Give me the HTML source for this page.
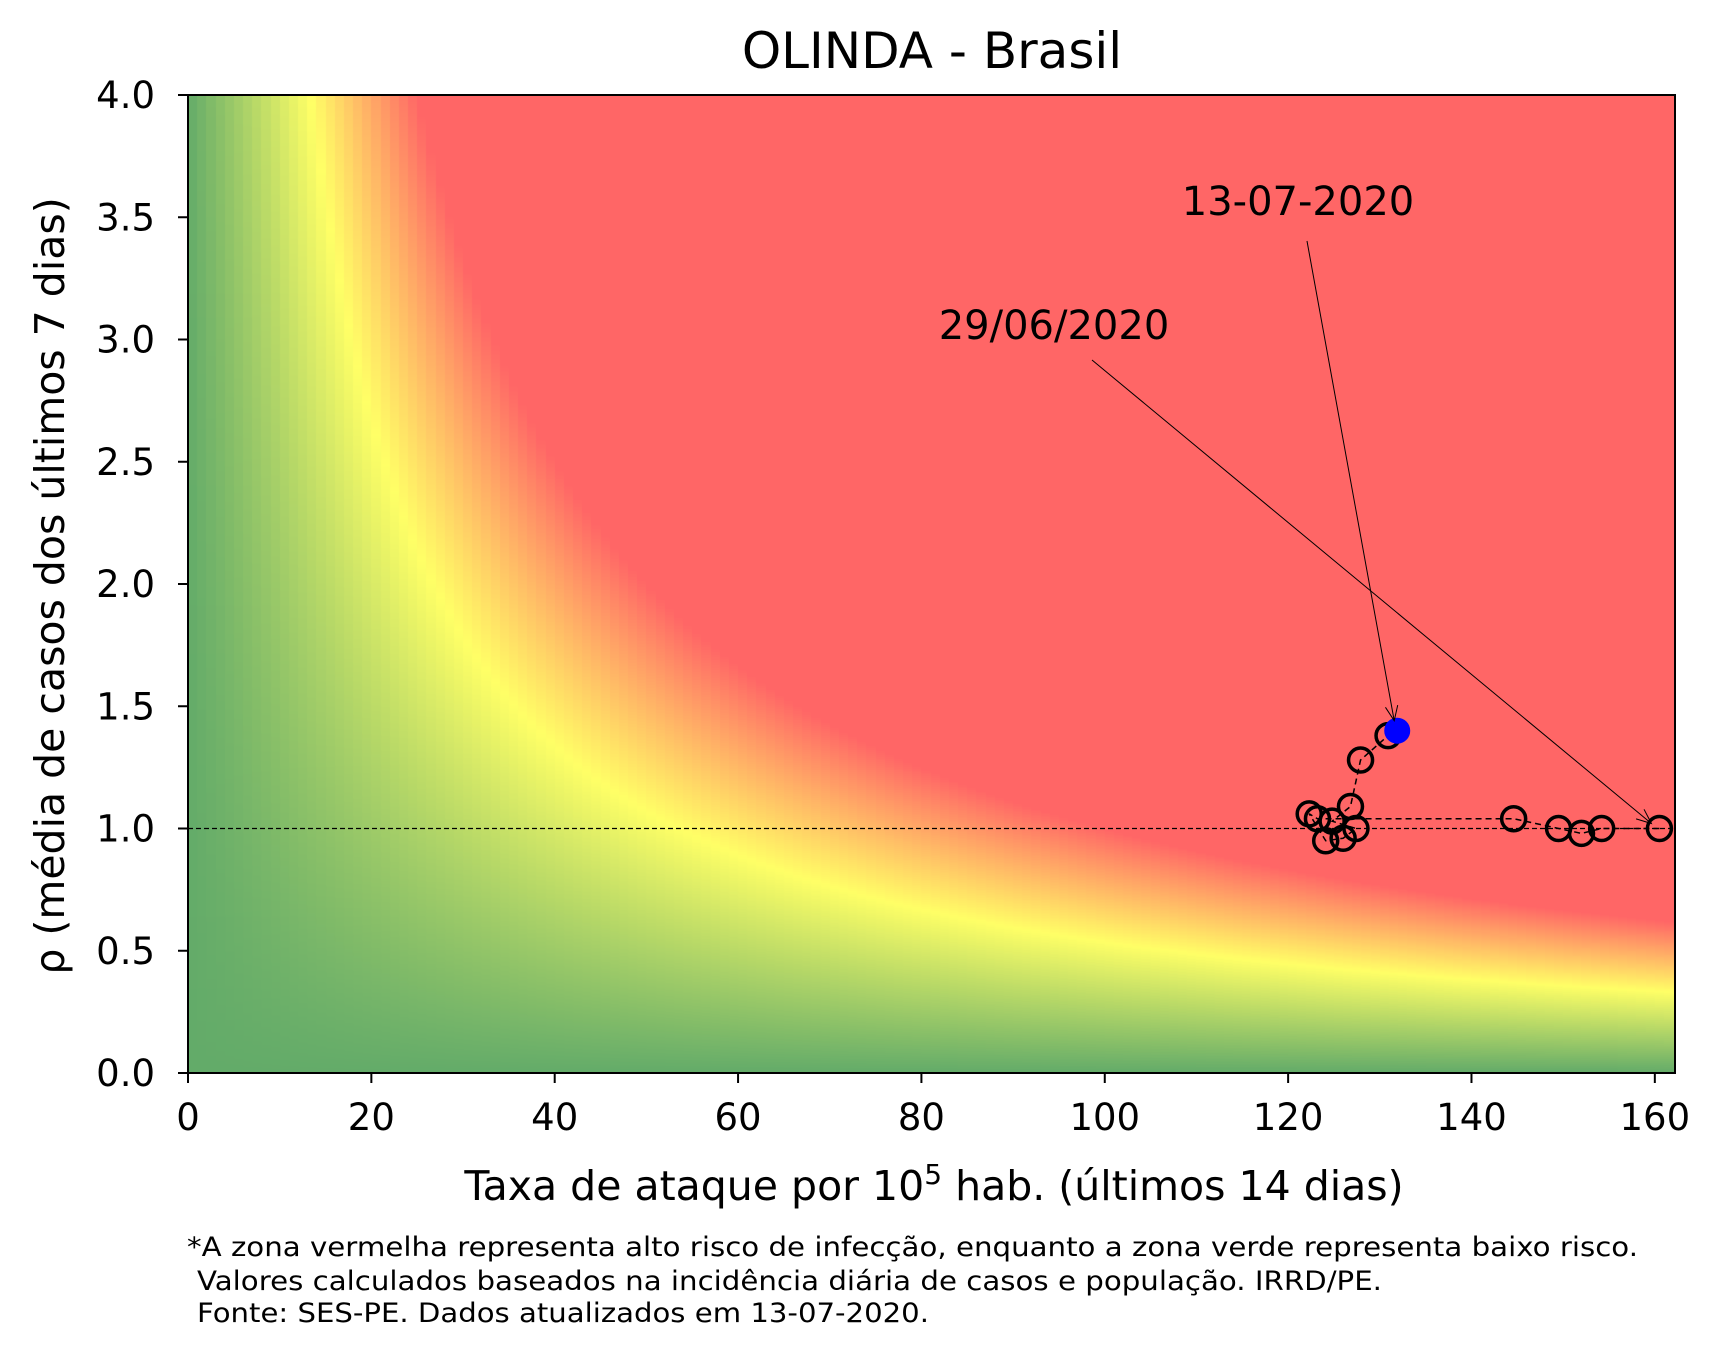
<!DOCTYPE html>
<html><head><meta charset="utf-8"><style>
body{margin:0;background:#fff;}
#wrap{position:relative;width:1725px;height:1357px;font-family:"DejaVu Sans","Liberation Sans",sans-serif;}
canvas,svg{position:absolute;left:0;top:0;}
svg text{font-family:"DejaVu Sans","Liberation Sans",sans-serif;}
</style></head><body>
<div id="wrap">
<canvas id="heat" width="1725" height="1357"></canvas>
<svg id="svg" width="1725" height="1357"></svg>
</div>
<script>
const xs = [160.5,154.2,152.0,149.5,144.6,123.2,122.3,124.1,126.0,127.4,124.8,126.8,127.9,130.9,131.9];
const ys = [1.0,1.0,0.98,1.0,1.04,1.04,1.06,0.95,0.96,1.0,1.03,1.09,1.28,1.38,1.40];
const xTicks = [0,20,40,60,80,100,120,140,160];
const yTicks = [0.0,0.5,1.0,1.5,2.0,2.5,3.0,3.5,4.0];
const L=188,R=1675,T=95,B=1073,XMAX=162.2,YMAX=4;
const sx=v=>L+v/XMAX*(R-L), sy=v=>B-v/YMAX*(B-T);
const c=document.getElementById('heat').getContext('2d');
const img=c.createImageData(R-L,B-T);
const G=[99,171,105],Y=[255,255,102],Rd=[255,102,102];
for(let j=0;j<B-T;j++){const yv=(B-(T+j+0.5))/(B-T)*YMAX;
 for(let i=0;i<R-L;i++){const xv=Math.floor((i+0.5)/(R-L)*XMAX)+0.5;
  let t=Math.min(1,xv*yv/100),col=[];
  const ty=0.535;
  for(let k=0;k<3;k++) col[k]=t<ty?G[k]+(Y[k]-G[k])*t/ty:Y[k]+(Rd[k]-Y[k])*(t-ty)/(1-ty);
  const p=(j*(R-L)+i)*4;img.data[p]=col[0];img.data[p+1]=col[1];img.data[p+2]=col[2];img.data[p+3]=255;}}
c.putImageData(img,L,T);
const svg=document.getElementById('svg');const NS='http://www.w3.org/2000/svg';
function el(tag,a,txt){const e=document.createElementNS(NS,tag);for(const k in a)e.setAttribute(k,a[k]);if(txt!==undefined)e.textContent=txt;svg.appendChild(e);return e;}
let e;
e=el('line',{x1:L,x2:R,y1:sy(1),y2:sy(1),stroke:'#000','stroke-width':1.2,'stroke-dasharray':'5,3'});


let d='';xs.forEach((x,i)=>{d+=(i?'L':'M')+sx(x)+' '+sy(ys[i]);});
e=el('path',{d:d,fill:'none',stroke:'#000','stroke-width':1.5,'stroke-dasharray':'6,4'});


xs.forEach((x,i)=>{
 const last=i===xs.length-1;
 const m=el('circle',{cx:sx(x),cy:sy(ys[i]),r:last?12.5:12,fill:last?'#0000ff':'none',stroke:last?'#0000ff':'#000','stroke-width':last?1:3.5});
 
 
});
function arrow(x1,y1,x2,y2,name){
 const g=el('g',{});
 const a=Math.atan2(y2-y1,x2-x1),h=16;
 const l=document.createElementNS(NS,'path');
 l.setAttribute('d',`M${x1} ${y1}L${x2} ${y2}M${x2-h*Math.cos(a-0.4)} ${y2-h*Math.sin(a-0.4)}L${x2} ${y2}L${x2-h*Math.cos(a+0.4)} ${y2-h*Math.sin(a+0.4)}`);
 l.setAttribute('stroke','#000');l.setAttribute('fill','none');l.setAttribute('stroke-width',1);g.appendChild(l);}
arrow(1307,241,sx(131.9)-3,sy(1.40)-10,'arrow-13-07');
arrow(1092,360,sx(160.5)-8,sy(1.0)-5,'arrow-29-06');
e=el('text',{x:1298,y:215,'font-size':40,'text-anchor':'middle'},'13-07-2020');

e=el('text',{x:1054,y:339,'font-size':40,'text-anchor':'middle'},'29/06/2020');

e=el('rect',{x:L,y:T,width:R-L,height:B-T,fill:'none',stroke:'#000','stroke-width':2});

xTicks.forEach(v=>{
 el('line',{x1:sx(v),x2:sx(v),y1:B,y2:B+10,stroke:'#000','stroke-width':2});
 const t=el('text',{x:sx(v),y:B+57,'font-size':37,'text-anchor':'middle'},String(v));
 
});
yTicks.forEach(v=>{
 el('line',{x1:L-10,x2:L,y1:sy(v),y2:sy(v),stroke:'#000','stroke-width':2});
 const t=el('text',{x:L-33,y:sy(v)+13,'font-size':37,'text-anchor':'end'},v.toFixed(1));
 
});
e=el('text',{x:932,y:68,'font-size':50,'text-anchor':'middle'},'OLINDA - Brasil');

e=el('text',{x:934,y:1200,'font-size':41,'text-anchor':'middle'});
e.innerHTML='Taxa de ataque por 10<tspan font-size="28" dy="-16">5</tspan><tspan dy="16"> hab. (últimos 14 dias)</tspan>';

e=el('text',{x:0,y:0,'font-size':41,'text-anchor':'middle',transform:'translate(64,586) rotate(-90)'},'ρ (média de casos dos últimos 7 dias)');

const foot=['*A zona vermelha representa alto risco de infecção, enquanto a zona verde representa baixo risco.','Valores calculados baseados na incidência diária de casos e população. IRRD/PE.','Fonte: SES-PE. Dados atualizados em 13-07-2020.'];
const fx=[187,197,197],fw=[1451,1185,732],fy=[1256,1290,1322];
foot.forEach((s,i)=>{const t=el('text',{x:fx[i],y:fy[i],'font-size':27,textLength:fw[i],lengthAdjust:'spacingAndGlyphs'},s);
 });
</script>
</body></html>
